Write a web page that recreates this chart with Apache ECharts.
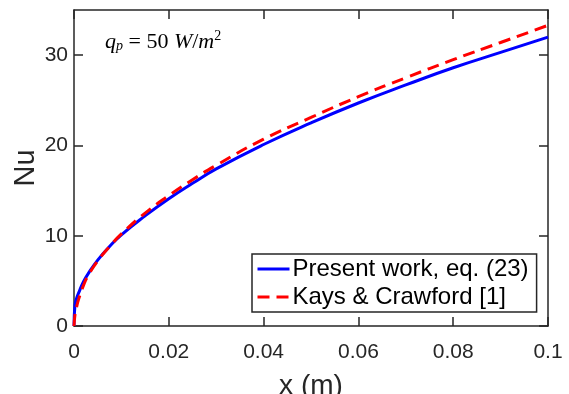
<!DOCTYPE html>
<html>
<head>
<meta charset="utf-8">
<script src="https://cdn.jsdelivr.net/npm/echarts@6/dist/echarts.min.js"></script>
<style>html,body{margin:0;padding:0;background:#fff}#c{width:569px;height:394px}</style>
</head>
<body>
<div id="c"></div>
<script>
const xValues = [0, 0.0002, 0.0005, 0.001, 0.002, 0.003, 0.005, 0.0075, 0.01, 0.015, 0.02, 0.025, 0.03, 0.04, 0.05, 0.06, 0.07, 0.08, 0.09, 0.1];
const presentWork = [0, 2.3, 3.0, 3.7, 4.9, 5.8, 7.3, 8.8, 10.1, 12.2, 14.1, 15.8, 17.4, 20.1, 22.5, 24.7, 26.7, 28.6, 30.3, 32.0];
const kaysCrawford = [0, 1.2, 2.0, 3.0, 4.5, 5.6, 7.2, 8.8, 10.2, 12.5, 14.45, 16.2, 17.8, 20.7, 23.1, 25.4, 27.5, 29.5, 31.4, 33.3];
const xTicks = [0, 0.02, 0.04, 0.06, 0.08, 0.1];
const xTickLabels = ['0', '0.02', '0.04', '0.06', '0.08', '0.1'];
const yTicks = [0, 10, 20, 30];
const yTickLabels = ['0', '10', '20', '30'];
const seriesNames = ['Present work, eq. (23)', 'Kays & Crawford [1]'];

const pair = (ys) => xValues.map((x, i) => [x, ys[i]]);
const axisCol = '#262626';
const font = 'Liberation Sans, Arial, sans-serif';

function xAx(pos, show) {
  return {
    type: 'value', position: pos, min: 0, max: 0.1,
    axisLine: { show: true, onZero: false, lineStyle: { color: axisCol, width: 1.5 } },
    axisTick: { show: true, inside: true, length: 9, customValues: xTicks, lineStyle: { color: axisCol, width: 1.5 } },
    axisLabel: show ? { show: true, customValues: xTicks, margin: 16, color: axisCol, fontSize: 21, fontFamily: font,
      formatter: v => { const i = xTicks.findIndex(t => Math.abs(t - v) < 1e-9); return i >= 0 ? xTickLabels[i] : ''; } } : { show: false },
    splitLine: { show: false },
    name: show ? 'x (m)' : '', nameLocation: 'middle', nameGap: 46, nameMoveOverlap: false,
    nameTextStyle: { fontSize: 28, color: axisCol, fontFamily: font }
  };
}
function yAx(pos, show) {
  return {
    type: 'value', position: pos, min: 0, max: 35,
    axisLine: { show: true, onZero: false, lineStyle: { color: axisCol, width: 1.5 } },
    axisTick: { show: true, inside: true, length: 9, customValues: yTicks, lineStyle: { color: axisCol, width: 1.5 } },
    axisLabel: show ? { show: true, customValues: yTicks, margin: 6, color: axisCol, fontSize: 21, fontFamily: font,
      formatter: v => { const i = yTicks.indexOf(v); return i >= 0 ? yTickLabels[i] : ''; } } : { show: false },
    splitLine: { show: false },
    name: show ? 'Nu' : '', nameLocation: 'middle', nameGap: 34, nameRotate: 90, nameMoveOverlap: false,
    nameTextStyle: { fontSize: 29, color: axisCol, fontFamily: font }
  };
}

const chart = echarts.init(document.getElementById('c'), null, { renderer: 'canvas' });
chart.setOption({
  animation: false,
  grid: { left: 74, right: 21, top: 10, bottom: 68, containLabel: false, outerBoundsMode: 'none' },
  xAxis: [xAx('bottom', true), xAx('top', false)],
  yAxis: [yAx('left', true), yAx('right', false)],
  legend: {
    left: 252, top: 254, orient: 'vertical',
    data: seriesNames,
    backgroundColor: '#fff', borderColor: axisCol, borderWidth: 1.5, borderRadius: 0,
    padding: [3, 8, 3, 4], itemGap: 4, itemWidth: 32, itemHeight: 23,
    itemStyle: { color: 'rgba(0,0,0,0)', borderWidth: 0, opacity: 0 },
    lineStyle: { width: 3 },
    textStyle: { fontSize: 24, color: '#000', fontFamily: font, padding: [0, 0, 0, -2] }
  },
  graphic: [{
    type: 'text', left: 105, top: 29,
    style: {
      text: '{i|q}{s|p}{n| = 50 }{i|W}{n|/}{i|m}{u|2}',
      rich: {
        i: { fontFamily: 'Liberation Serif, serif', fontStyle: 'italic', fontSize: 22, fill: '#000' },
        n: { fontFamily: 'Liberation Serif, serif', fontSize: 22, fill: '#000' },
        s: { fontFamily: 'Liberation Serif, serif', fontStyle: 'italic', fontSize: 14, fill: '#000', padding: [9, 0, 0, 0] },
        u: { fontFamily: 'Liberation Serif, serif', fontSize: 14, fill: '#000', padding: [0, 0, 12, 0] }
      }
    }
  }],
  series: [
    { name: seriesNames[0], type: 'line', data: pair(presentWork), smooth: true, symbol: 'none',
      lineStyle: { color: '#0000ff', width: 3 }, itemStyle: { color: '#0000ff' }, z: 3 },
    { name: seriesNames[1], type: 'line', data: pair(kaysCrawford), smooth: true, symbol: 'none',
      lineStyle: { color: '#ff0000', width: 3, type: [12, 7] }, itemStyle: { color: '#ff0000' }, z: 4 }
  ]
});
</script>
</body>
</html>
